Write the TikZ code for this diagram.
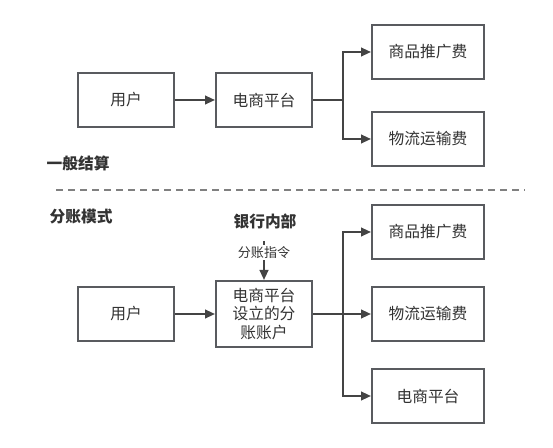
\documentclass[tikz,border=0pt]{standalone}
\usepackage{fontspec}
\usepackage{tikz}
\usetikzlibrary{calc,shapes,arrows,arrows.meta}
\newfontfamily\cjk{Noto Sans CJK SC}
\definecolor{boxline}{HTML}{595B5F}
\definecolor{arrline}{HTML}{444444}
\definecolor{txt}{HTML}{333333}

\begin{document}
\begin{tikzpicture}[x=0.75pt,y=-0.75pt,
        box/.style={draw=boxline,line width=1.5pt,fill=white,text=txt,
            font=\cjk\fontsize{11.8}{13.9}\selectfont,
            minimum width=96*0.75pt,minimum height=54*0.75pt,inner sep=2pt,align=center},
        wide/.style={box,minimum width=112*0.75pt},
        arr/.style={draw=arrline,line width=1.5pt,-{Triangle[length=7.5pt,width=6.5pt]}},
        title/.style={text=txt,font=\cjk\bfseries\fontsize{11.8}{13}\selectfont}]
        \useasboundingbox (0,0) rectangle (553,448);
        % top: normal settlement
        \node[box] (u1) at (126,100) {用户};
        \node[box] (p1) at (264,100) {电商平台};
        \node[wide] (f1) at (428,52) {商品推广费};
        \node[wide] (l1) at (428,139) {物流运输费};
        \draw[arr] (u1) -- (p1);
        \draw[arr] (p1.east) -- ++(30,0) |- (f1);
        \draw[arr] (p1.east) -- ++(30,0) |- (l1);
        \node[title,anchor=west] (t1) at (42,163) {一般结算};
        % separator
        \coordinate (s1) at (56,190);
        \coordinate (s2) at (525,190);
        \draw[color=gray,line width=1.5pt,dash pattern=on 5.5pt off 3.5pt] (s1) -- (s2);
        % bottom: split account
        \node[title,anchor=west] (t2) at (45,217) {分账模式};
        \node[title] (bank) at (265,221) {银行内部};
        \node[box] (u2) at (126,314) {用户};
        \node[box,minimum height=66*0.75pt] (a2) at (264,314) {电商平台\\设立的分\\账账户};
        \node[wide] (f2) at (428,232) {商品推广费};
        \node[wide] (l2) at (428,314) {物流运输费};
        \node[wide] (e2) at (428,396) {电商平台};
        \coordinate (cmd) at (264,241);
        \draw[arr] (cmd) -- (a2.north)
            node[pos=0.3,fill=white,text=txt,inner sep=1pt,
                font=\cjk\fontsize{9.8}{10}\selectfont] (lab) {分账指令};
        \draw[arr] (u2) -- (a2);
        \draw[arr] (a2.east) -- ++(30,0) |- (f2);
        \draw[arr] (a2.east) -- (l2);
        \draw[arr] (a2.east) -- ++(30,0) |- (e2);
\end{tikzpicture}
\end{document}
